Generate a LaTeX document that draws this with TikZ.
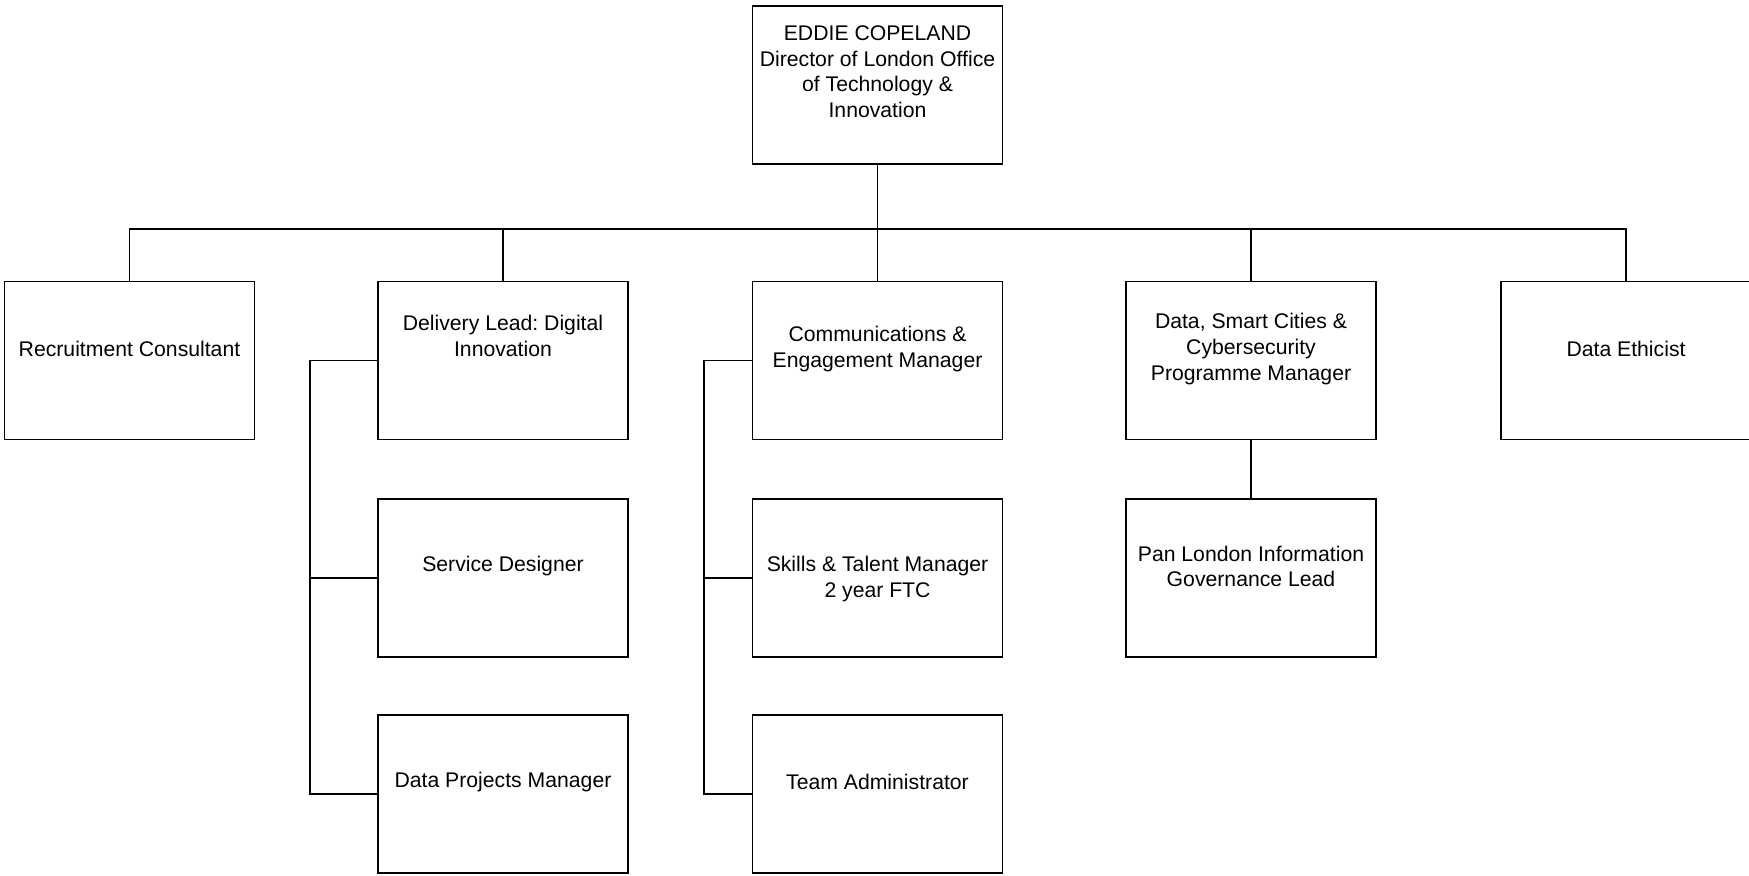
\documentclass[tikz,border=0pt]{standalone}
\usepackage{fontspec}
\setmainfont{Liberation Sans}
\usepackage{tikz}
\frenchspacing

\tikzset{
	post/.style={draw, line width=.7pt, minimum width=125pt, minimum height=79pt, inner sep=0pt},
	txt/.style={align=center, inner sep=0pt, font=\fontsize{10.6}{12.85}\selectfont, yshift=5.8pt},
	link/.style={line width=.55pt}
}

\begin{document}
\begin{tikzpicture}[x=.5pt, y=-.5pt]

	\useasboundingbox (0,0) rectangle (1749,875);

	% director
	\node[post] (dir) at (877.5,84.8) {};
	\node[txt, yshift=.8pt] (dir-t) at (dir) {EDDIE COPELAND\\Director of London Office\\of Technology \&\\Innovation};

	% first row
	\node[post] (rc) at (129.5,360.5) {};
	\node[post] (dl) at (503,360.5) {};
	\node[post] (cm) at (877.5,360.5) {};
	\node[post] (ds) at (1251,360.5) {};
	\node[post] (de) at (1626,360.5) {};
	\node[txt] (rc-t) at (rc) {Recruitment Consultant};
	\node[txt, yshift=6.6pt] (dl-t) at (dl) {Delivery Lead: Digital\\Innovation};
	\node[txt] (cm-t) at (cm) {Communications \&\\Engagement Manager};
	\node[txt] (ds-t) at (ds) {Data, Smart Cities \&\\Cybersecurity\\Programme Manager};
	\node[txt] (de-t) at (de) {Data Ethicist};

	% second row
	\node[post] (sd) at (503,578) {};
	\node[post] (st) at (877.5,578) {};
	\node[post] (pl) at (1251,578) {};
	\node[txt] (sd-t) at (sd) {Service Designer};
	\node[txt, yshift=-6.2pt] (st-t) at (st) {Skills \& Talent Manager\\2 year FTC};
	\node[txt] (pl-t) at (pl) {Pan London Information\\Governance Lead};

	% third row
	\node[post] (dp) at (503,794) {};
	\node[post] (ta) at (877.5,794) {};
	\node[txt] (dp-t) at (dp) {Data Projects Manager};
	\node[txt] (ta-t) at (ta) {Team Administrator};

	\coordinate (bus) at (877.5,229);
	\coordinate (dl-rail) at (310,0);
	\coordinate (cm-rail) at (704,0);

	\draw[link] (dir.south) -- (bus);
	\draw[link] (rc.north) |- (bus) -| (de.north);
	\foreach \n in {dl,cm,ds}
		\draw[link] (\n.north) -- (\n.north |- bus);

	\draw[link] (dl.west) -- (dl.west -| dl-rail) |- (dp.west);
	\draw[link] (sd.west) -- (sd.west -| dl-rail);
	\draw[link] (cm.west) -- (cm.west -| cm-rail) |- (ta.west);
	\draw[link] (st.west) -- (st.west -| cm-rail);
	\draw[link] (ds.south) -- (pl.north);

\end{tikzpicture}
\end{document}
